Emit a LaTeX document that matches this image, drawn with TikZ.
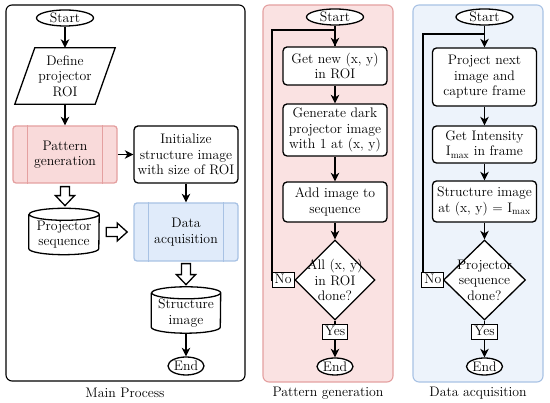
\documentclass[tikz,border=0pt]{standalone}
\usetikzlibrary{shapes.geometric,arrows.meta,calc}
\definecolor{pinkbg}{RGB}{250,226,226}
\definecolor{pinkbd}{RGB}{228,160,160}
\definecolor{pinkbox}{RGB}{249,218,218}
\definecolor{bluebg}{RGB}{237,243,251}
\definecolor{bluebd}{RGB}{168,194,228}
\definecolor{bluebox}{RGB}{224,235,250}
\begin{document}
\begin{tikzpicture}[x=1pt,y=1pt,
  every node/.style={font=\fontsize{13.8}{15.5}\selectfont},
  ln/.style={line width=1.3pt},
  arr/.style={ln,-{Stealth[length=8.5pt,width=8.5pt,inset=2.5pt]}},
  term/.style={ellipse,draw,ln,fill=white,inner sep=0pt,minimum height=16pt},
  proc/.style={rectangle,rounded corners=4pt,draw,ln,fill=white,align=center,minimum width=104pt,inner sep=1pt},
  dec/.style={diamond,draw,ln,fill=white,align=center,inner sep=-5pt,minimum width=80pt,minimum height=80pt},
  lbl/.style={rectangle,draw,line width=1pt,fill=white,inner xsep=2.5pt,inner ysep=1pt,text height=10pt,text depth=3pt},
  panel/.style={rounded corners=6pt,line width=1.1pt},
  hol/.style={ln,fill=white,line join=miter}
]
\useasboundingbox (0,0) rectangle (550,403);
% panels
\draw[panel] (6,22) rectangle (245,398);
\draw[panel,fill=pinkbg,draw=pinkbd] (263,21) rectangle (393,398);
\draw[panel,fill=bluebg,draw=bluebd] (413,21) rectangle (543,398);
\node (lab1) at (125,10) {Main Process};
\node (lab2) at (328,10) {Pattern generation};
\node (lab3) at (478,10) {Data acquisition};

% ---------- main process
\node[term,minimum width=57pt] (s1) at (65,385) {Start};
\node[minimum width=80pt,minimum height=56pt,align=center,inner sep=0pt] (roi) at (65,327) {Define\\projector\\ROI};
\draw[ln] ([xshift=-10pt]roi.south west) -- ([xshift=-10pt]roi.south east) -- ([xshift=10pt]roi.north east) -- ([xshift=10pt]roi.north west) -- cycle;
\node[proc,fill=pinkbox,draw=pinkbd,rounded corners=3pt,minimum height=57pt] (pg) at (65,248.5) {Pattern\\generation};
\draw[ln,pinkbd] ([xshift=15pt]pg.north west) -- ([xshift=15pt]pg.south west)
  ([xshift=-15pt]pg.north east) -- ([xshift=-15pt]pg.south east);
\node[proc,minimum height=57pt] (init) at (186,248.5) {Initialize\\structure image\\with size of ROI};
\node[minimum width=70pt,minimum height=40pt,align=center,inner sep=0pt] (ps) at (64,168.5) {Projector\\sequence};
\draw[ln] (ps.north west) -- ([yshift=6pt]ps.south west) arc[start angle=180,end angle=360,x radius=35,y radius=6] -- (ps.north east) arc[start angle=0,end angle=360,x radius=35,y radius=6];
\node[proc,fill=bluebox,draw=bluebd,rounded corners=3pt,minimum height=58pt] (da) at (186,171) {Data\\acquisition};
\draw[ln,bluebd] ([xshift=15pt]da.north west) -- ([xshift=15pt]da.south west)
  ([xshift=-15pt]da.north east) -- ([xshift=-15pt]da.south east);
\node[minimum width=69pt,minimum height=40pt,align=center,inner sep=0pt] (sim) at (186,90) {Structure\\image};
\draw[ln] (sim.north west) -- ([yshift=6pt]sim.south west) arc[start angle=180,end angle=360,x radius=34.5,y radius=6] -- (sim.north east) arc[start angle=0,end angle=360,x radius=34.5,y radius=6];
\node[term,minimum width=36pt,minimum height=18pt] (e1) at (186,37) {End};

\draw[arr] (s1.south) -- (roi.north);
\draw[arr] (roi.south) -- (pg.north);
\draw[arr] (pg.east) -- (init.west);
\draw[arr] (init.south) -- (da.north);
\draw[arr] (sim.south) -- (e1.north);
% hollow arrows
\draw[hol] (pg.south) ++(-4.5,-3) -- ++(0,-9) -- ++(-5,0) -- ++(9.5,-10) -- ++(9.5,10) -- ++(-5,0) -- ++(0,9) -- cycle;
\draw[hol] (ps.east) ++(7,2.5) ++(0,-4.5) -- ++(11,0) -- ++(0,-4.5) -- ++(10,9) -- ++(-10,9) -- ++(0,-4.5) -- ++(-11,0) -- cycle;
\draw[hol] (da.south) ++(-4.5,-2) -- ++(0,-11) -- ++(-5,0) -- ++(9.5,-10) -- ++(9.5,10) -- ++(-5,0) -- ++(0,11) -- cycle;

% ---------- pattern generation
\node[term,minimum width=57pt] (s2) at (335,386) {Start};
\node[proc,minimum height=38pt] (gn) at (335,337) {Get new (x, y)\\in ROI};
\node[proc,minimum height=52pt] (gd) at (335,273) {Generate dark\\projector image\\with 1 at (x, y)};
\node[proc,minimum height=40pt] (ai) at (335,201) {Add image to\\sequence};
\node[dec] (d1) at (335,123) {All (x, y)\\in ROI\\done?};
\node[term,minimum width=36pt,minimum height=17pt] (e2) at (335,36.5) {End};
\coordinate (lp1) at (272,373);
\draw[arr] (s2.south) -- (gn.north);
\draw[arr] (gn.south) -- (gd.north);
\draw[arr] (gd.south) -- (ai.north);
\draw[arr] (ai.south) -- (d1.north);
\draw[arr] (d1.south) -- node[lbl,pos=0.32]{Yes} (e2.north);
\draw[ln] (d1.west) -- node[lbl]{No} (d1.west -| lp1) -- (lp1) -| (gn.north);

% ---------- data acquisition
\node[term,minimum width=57pt] (s3) at (484.5,386) {Start};
\node[proc,minimum height=58pt] (pn) at (484.5,326) {Project next\\image and\\capture frame};
\node[proc,minimum height=37pt] (gi) at (484.5,258.5) {Get Intensity\\I\textsubscript{max} in frame};
\node[proc,minimum height=41pt] (si) at (484.5,201.5) {Structure image\\at (x, y) = I\textsubscript{max}};
\node[dec,minimum width=82pt] (d2) at (484.5,123) {Projector\\sequence\\done?};
\node[term,minimum width=36pt,minimum height=17pt] (e3) at (484.5,36.5) {End};
\coordinate (lp2) at (423,369);
\draw[arr] (s3.south) -- (pn.north);
\draw[arr] (pn.south) -- (gi.north);
\draw[arr] (gi.south) -- (si.north);
\draw[arr] (si.south) -- (d2.north);
\draw[arr] (d2.south) -- node[lbl,pos=0.32]{Yes} (e3.north);
\draw[ln] (d2.west) -- node[lbl]{No} (d2.west -| lp2) -- (lp2) -| (pn.north);
\end{tikzpicture}
\end{document}
